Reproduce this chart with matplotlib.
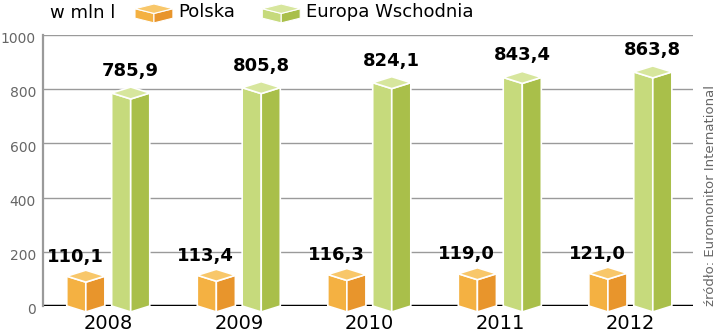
import matplotlib
matplotlib.use("Agg")
import matplotlib.pyplot as plt
from matplotlib.legend_handler import HandlerBase
from matplotlib.patches import Polygon

# Data
years = ["2008", "2009", "2010", "2011", "2012"]
polska = [110.1, 113.4, 116.3, 119.0, 121.0]
europa = [785.9, 805.8, 824.1, 843.4, 863.8]
polska_labels = ["110,1", "113,4", "116,3", "119,0", "121,0"]
europa_labels = ["785,9", "805,8", "824,1", "843,4", "863,8"]

# Colours: left face, right face, top face
orange = ("#f4b142", "#e8952c", "#f8c76a")
green = ("#c6da7c", "#a9bf4a", "#d7e69d")

W, H = 720, 336
fig = plt.figure(figsize=(W / 100, H / 100), dpi=100)
ax = fig.add_axes([43 / W, 30 / H, 650 / W, 271 / H])
ax.set_xlim(-0.5, 4.48)
ax.set_ylim(0, 1000)

half = 0.146   # half width of a bar (x units)
depth = 22     # depth of the top face (y units)
shift = 0.172  # distance of each bar from the category centre


def prism(cx, v, cols):
    left = [(cx - half, 0), (cx, -depth), (cx, v - depth), (cx - half, v)]
    right = [(cx, -depth), (cx + half, 0), (cx + half, v), (cx, v - depth)]
    top = [(cx - half, v), (cx, v - depth), (cx + half, v), (cx, v + depth)]
    for pts, c in zip((left, right, top), cols):
        ax.add_patch(Polygon(pts, closed=True, facecolor=c, edgecolor="white",
                             linewidth=1.2, zorder=3, clip_on=False))


# grid + axis lines
for t in [200, 400, 600, 800, 1000]:
    ax.axhline(t, color="#9a9a9a", lw=1, zorder=1)
ax.axhline(0, color="black", lw=2.5, zorder=2)
for s in ["top", "right", "bottom"]:
    ax.spines[s].set_visible(False)
ax.spines["left"].set_color("#9a9a9a")
ax.spines["left"].set_linewidth(1.6)

for i in range(len(years)):
    prism(i - shift, polska[i], orange)
    prism(i + shift, europa[i], green)
    ax.annotate(europa_labels[i], (i + shift, europa[i] + depth),
                xytext=(0, 8), textcoords="offset points", ha="center",
                va="baseline", fontsize=13, fontweight="bold", zorder=5)
    ax.annotate(polska_labels[i], (i + shift - half, polska[i] + depth),
                xytext=(-6, 6), textcoords="offset points", ha="right",
                va="baseline", fontsize=13, fontweight="bold", zorder=5)

# y tick labels (set slightly below their gridlines)
ax.set_yticks([])
for t in [0, 200, 400, 600, 800, 1000]:
    ax.annotate(str(t), (0, t), xycoords=ax.get_yaxis_transform(),
                xytext=(-5, -3), textcoords="offset points", ha="right",
                va="center", fontsize=10, color="#666666")

ax.set_xticks(range(len(years)))
ax.set_xticklabels(years, fontsize=14)
ax.tick_params(axis="x", length=0, pad=6)


# Legend with small box icons
class BoxHandler(HandlerBase):
    def create_artists(self, legend, orig_handle, xdescent, ydescent,
                       width, height, fontsize, trans):
        cols = orig_handle
        x0 = -xdescent
        w = width
        h = 17.0                          # icon height in points
        y0 = -ydescent + height / 2 - h / 2
        mid = x0 + w / 2
        d = h * 0.2
        b = y0 + d             # side corners at the bottom
        t = y0 + h * 0.6       # side corners at the top
        left = [(x0, t), (mid, t - d), (mid, b - d), (x0, b)]
        right = [(mid, t - d), (x0 + w, t), (x0 + w, b), (mid, b - d)]
        top = [(x0, t), (mid, t - d), (x0 + w, t), (mid, t + d)]
        arts = []
        for pts, c in zip((left, right, top), cols):
            p = Polygon(pts, closed=True, facecolor=c, edgecolor="white",
                        linewidth=0.8, transform=trans)
            arts.append(p)
        return arts


fig.text(50 / W, 1 - 13 / H, "w mln l", fontsize=13, va="center")
leg = fig.legend([orange, green], ["Polska", "Europa Wschodnia"],
                 handler_map={tuple: BoxHandler(xpad=0, ypad=0)},
                 loc="upper left", bbox_to_anchor=(135 / W, 1 - 3 / H),
                 ncol=2, frameon=False, fontsize=13, borderpad=0,
                 borderaxespad=0, handlelength=2.1, handleheight=1.0,
                 handletextpad=0.3, columnspacing=1.5)

fig.text(710 / W, 1 - 196 / H, "źródło: Euromonitor International",
         rotation=90, fontsize=9.5, color="#666666", ha="center", va="center")

fig.savefig("out.png", dpi=100)
